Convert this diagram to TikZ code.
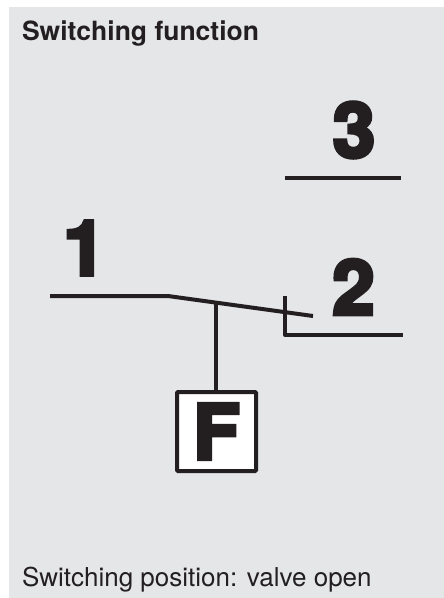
\documentclass[tikz,border=0pt]{standalone}
\usepackage{fontspec}
\setmainfont{TeX Gyre Heros}
\newfontfamily\numfont[BoldFeatures={FakeBold=5}]{TeX Gyre Heros}
\usepackage{xcolor}
\definecolor{panelgray}{HTML}{E5E6E8}
\definecolor{inkblack}{HTML}{231F20}
\begin{document}
\begin{tikzpicture}[x=1pt,y=-1pt,line width=4pt,color=inkblack]

\useasboundingbox (0,0) rectangle (444,598);
\fill[panelgray] (9,7) rectangle (444,598);

\coordinate (p1) at (50,296);
\coordinate (bend) at (168,296);
\coordinate (tip) at (313,316);
\coordinate (joint) at (216,302.6);
\coordinate (p2top) at (285,296);
\coordinate (p2corner) at (285,335);
\coordinate (p2end) at (403,335);
\coordinate (p3left) at (285,178);
\coordinate (p3right) at (401,178);

\begin{scope}[every node/.style={font=\numfont\bfseries\fontsize{76}{76}\selectfont, inner sep=0pt}]
  \node (n1) at (84.5,248) {1};
  \node (n2) at (353.5,287) {2};
  \node (n3) at (354,130) {3};
\end{scope}

\node[draw, line width=4pt, fill=white, rounded corners=1pt, minimum size=79pt, inner sep=0pt,
  font=\numfont\bfseries\fontsize{76}{76}\selectfont] (fbox) at (216.5,431.5) {F};

\draw (p1) -- (bend) -- (tip);
\draw (joint) -- (joint |- fbox.north);
\draw[line join=round] (p2top) -- (p2corner) -- (p2end);
\draw[line width=4.6pt] (p3left) -- (p3right);

\node[anchor=base west, inner sep=0pt, font=\bfseries\fontsize{26.5}{26.5}\selectfont] (title) at (20,40.5) {Switching function};
\node[anchor=base west, inner sep=0pt, font=\fontsize{26}{26}\selectfont] (status) at (20,586) {Switching position: valve open};

\end{tikzpicture}
\end{document}
